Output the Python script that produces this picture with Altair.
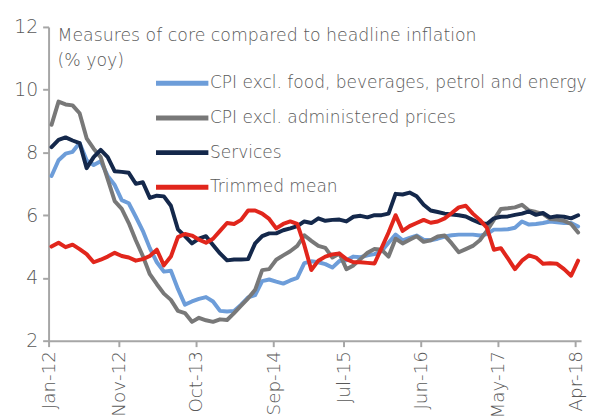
import altair as alt
import pandas as pd

# ---- data (monthly, Jan-2012 .. Apr-2018, % yoy) ----
SERIES = [
    "CPI excl. food, beverages, petrol and energy",
    "CPI excl. administered prices",
    "Services",
    "Trimmed mean",
]
COLORS = ["#6d9dd9", "#787878", "#14284b", "#e1261c"]

MONTHS = [d.strftime("%b-%y") for d in pd.date_range("2012-01-01", "2018-04-01", freq="MS")]

CPI_EXCL_FOOD = [
    7.25, 7.75, 7.96, 8.02, 8.3, 7.75, 7.6, 7.72, 7.25, 6.96,
    6.48, 6.38, 5.95, 5.5, 4.95, 4.5, 4.2, 4.23, 3.65, 3.15,
    3.25, 3.33, 3.39, 3.25, 2.95, 2.93, 2.95, 3.15, 3.38, 3.45,
    3.9, 3.95, 3.88, 3.82, 3.92, 4.0, 4.47, 4.53, 4.5, 4.44,
    4.33, 4.54, 4.56, 4.68, 4.66, 4.72, 4.76, 4.85, 5.12, 5.38,
    5.2, 5.28, 5.35, 5.22, 5.2, 5.25, 5.32, 5.36, 5.38, 5.38,
    5.38, 5.35, 5.4, 5.54, 5.54, 5.55, 5.6, 5.8, 5.7, 5.72,
    5.75, 5.8, 5.77, 5.75, 5.75, 5.64,
]
CPI_EXCL_ADMIN = [
    8.88, 9.62, 9.53, 9.5, 9.25, 8.45, 8.12, 7.85, 7.15, 6.45,
    6.2, 5.75, 5.2, 4.7, 4.12, 3.8, 3.5, 3.3, 2.95, 2.88,
    2.6, 2.73, 2.65, 2.6, 2.68, 2.66, 2.88, 3.12, 3.35, 3.62,
    4.25, 4.28, 4.58, 4.72, 4.85, 5.02, 5.36, 5.18, 5.02, 4.96,
    4.65, 4.78, 4.28, 4.4, 4.6, 4.8, 4.92, 4.9, 4.68, 5.25,
    5.1, 5.22, 5.33, 5.15, 5.2, 5.32, 5.35, 5.1, 4.82, 4.92,
    5.02, 5.2, 5.5, 5.85, 6.2, 6.22, 6.25, 6.33, 6.15, 6.1,
    6.04, 5.88, 5.86, 5.82, 5.72, 5.45,
]
SERVICES = [
    8.17, 8.4, 8.48, 8.38, 8.3, 7.5, 7.85, 8.08, 7.85, 7.4,
    7.38, 7.35, 7.0, 7.05, 6.55, 6.62, 6.6, 6.3, 5.55, 5.33,
    5.1, 5.25, 5.33, 5.05, 4.78, 4.56, 4.59, 4.59, 4.6, 5.1,
    5.33, 5.42, 5.42, 5.52, 5.58, 5.65, 5.8, 5.75, 5.9, 5.82,
    5.85, 5.86, 5.8, 5.95, 5.98, 5.93, 6.0, 6.0, 6.05, 6.68,
    6.66, 6.72, 6.6, 6.33, 6.15, 6.1, 6.05, 6.02, 6.0, 5.96,
    5.85, 5.75, 5.72, 5.9, 5.95, 5.96, 6.01, 6.05, 6.12, 6.01,
    6.07, 5.93, 5.97, 5.95, 5.9, 6.0,
]
TRIMMED_MEAN = [
    5.0, 5.12, 4.98, 5.06, 4.92, 4.76, 4.5, 4.58, 4.68, 4.8,
    4.7, 4.65, 4.55, 4.6, 4.7, 4.9, 4.4, 4.68, 5.3, 5.4,
    5.35, 5.22, 5.12, 5.25, 5.5, 5.75, 5.72, 5.85, 6.15, 6.15,
    6.05, 5.88, 5.58, 5.72, 5.8, 5.72, 5.05, 4.25, 4.55, 4.68,
    4.75, 4.78, 4.6, 4.5, 4.5, 4.48, 4.46, 4.95, 5.45, 6.0,
    5.5, 5.65, 5.75, 5.85, 5.76, 5.8, 5.9, 6.07, 6.25, 6.3,
    6.05, 5.85, 5.6, 4.9, 4.95, 4.62, 4.28, 4.55, 4.72, 4.65,
    4.45, 4.47, 4.45, 4.28, 4.07, 4.55,
]

TICK_LABELS = ["Jan-12", "Nov-12", "Oct-13", "Sep-14", "Jul-15", "Jun-16", "May-17", "Apr-18"]
Y_TICKS = [2, 4, 6, 8, 10, 12]
TICK_SHIFT = 0.42  # category ticks sit slightly before each month's point

TITLE_LINES = ["Measures of core compared to headline inflation", "(% yoy)"]

# ---- build table ----
rows = []
for name, vals in zip(SERIES, [CPI_EXCL_FOOD, CPI_EXCL_ADMIN, SERVICES, TRIMMED_MEAN]):
    for i, (m, v) in enumerate(zip(MONTHS, vals)):
        rows.append({"idx": i, "month": m, "series": name, "value": v, "order": SERIES.index(name)})
df = pd.DataFrame(rows)

tick_pos = [MONTHS.index(t) for t in TICK_LABELS]
tick_vals = [p - TICK_SHIFT for p in tick_pos]
label_expr = (
    "[" + ",".join(f"'{t}'" for t in TICK_LABELS) + "]"
    + "[indexof([" + ",".join(str(p) for p in tick_pos) + f"], round(datum.value + {TICK_SHIFT}))]"
)

FONT = "DejaVu Sans"
FW = 200
TXT = "#595959"
AX = "#a6a6a6"

lines = alt.Chart(df).mark_line(strokeWidth=4, strokeJoin="round", strokeCap="round").encode(
    x=alt.X(
        "idx:Q",
        scale=alt.Scale(domain=[-TICK_SHIFT, len(MONTHS) - 1 + TICK_SHIFT], nice=False, zero=False),
        axis=alt.Axis(
            values=tick_vals,
            labelExpr=label_expr,
            labelAngle=270,
            labelAlign="right",
            labelBaseline="middle",
            labelFontSize=18.5,
            labelFont=FONT,
            labelFontWeight=FW,
            labelColor=TXT,
            labelPadding=4,
            tickSize=6,
            tickColor=AX,
            tickWidth=2,
            domainColor=AX,
            domainWidth=2,
            grid=False,
            title=None,
        ),
    ),
    y=alt.Y(
        "value:Q",
        scale=alt.Scale(domain=[2, 12], nice=False, zero=False),
        axis=alt.Axis(
            values=Y_TICKS,
            labelFontSize=19,
            labelFont=FONT,
            labelFontWeight=FW,
            labelColor=TXT,
            labelPadding=5,
            tickSize=6,
            tickColor=AX,
            tickWidth=2,
            domainColor=AX,
            domainWidth=2,
            grid=False,
            title=None,
        ),
    ),
    color=alt.Color(
        "series:N",
        scale=alt.Scale(domain=SERIES, range=COLORS),
        sort=SERIES,
        legend=alt.Legend(
            orient="none",
            legendX=119,
            legendY=41,
            title=None,
            symbolType="M-2,0H2",
            symbolSize=700,
            symbolStrokeWidth=5,
            labelFontSize=17.2,
            labelFont=FONT,
            labelFontWeight=FW,
            labelColor=TXT,
            labelOffset=12,
            labelLimit=600,
            rowPadding=9,
            padding=0,
        ),
    ),
    order=alt.Order("order:Q"),
    detail="series:N",
)

title_df = pd.DataFrame({"text": ["\n".join(TITLE_LINES)]})
title = alt.Chart(title_df).mark_text(
    align="left",
    baseline="alphabetic",
    lineBreak="\n",
    lineHeight=25,
    fontSize=17.5,
    font=FONT,
    fontWeight=FW,
    color=TXT,
).encode(
    text="text:N",
    x=alt.value(9),
    y=alt.value(14),
)

chart = alt.layer(lines, title).properties(
    width=538,
    height=317,
    padding={"left": 41, "top": 17, "right": 7, "bottom": 77},
    autosize=alt.AutoSizeParams(type="none"),
).configure_view(stroke=None)

chart.save("out.html", embed_options={"renderer": "svg", "actions": False})
